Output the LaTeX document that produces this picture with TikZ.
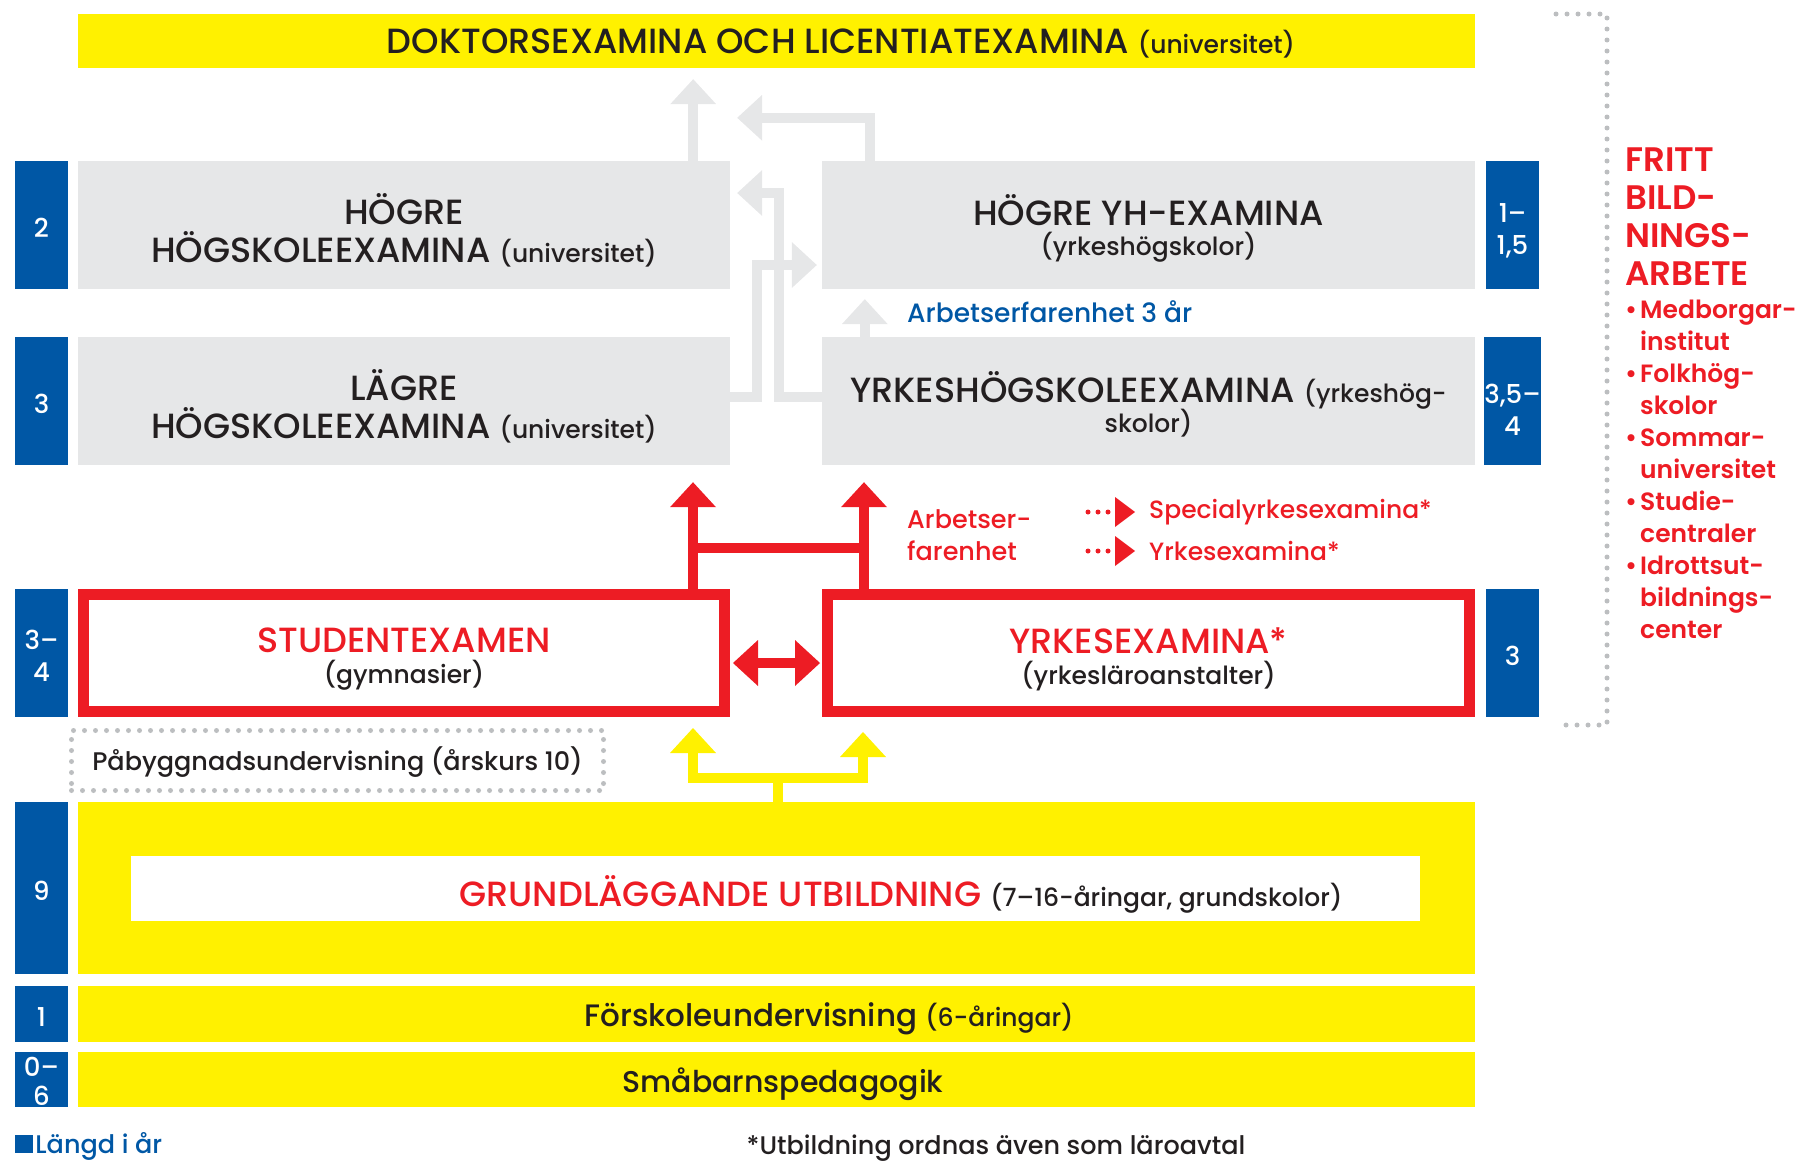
\documentclass[tikz,border=0pt]{standalone}
\usepackage{fontspec}
\setmainfont{Poppins}[UprightFont=* Medium, BoldFont=* SemiBold]
\usetikzlibrary{arrows.meta,positioning}

\definecolor{eduyellow}{HTML}{FFF100}
\definecolor{edured}{HTML}{ED1C24}
\definecolor{edublue}{HTML}{0057A5}
\definecolor{edutext}{HTML}{231F20}
\definecolor{edugrey}{HTML}{E6E7E8}
\definecolor{edudots}{HTML}{BCBEC0}

\newcommand{\capsfont}{\fontsize{35}{38}\selectfont}
\newcommand{\subfont}{\fontsize{25}{32}\selectfont}
\newcommand{\bodyfont}{\fontsize{25.5}{32}\selectfont}
\newcommand{\barfont}{\fontsize{31}{36}\selectfont}
\newcommand{\numfont}{\fontsize{26}{32}\selectfont}
\newcommand{\frittfont}{\fontsize{34}{38}\selectfont\bfseries}
\newcommand{\listfont}{\fontsize{25}{32}\selectfont\bfseries}
% lowers one line of a node text without changing the node size
\newcommand{\sinkline}[2][5pt]{\raisebox{-#1}[\height][\depth]{#2}}

\tikzset{
  bigtip/.tip={Triangle[length=25pt,width=46pt,line width=0pt]},
  smalltip/.tip={Triangle[length=20pt,width=30pt,line width=0pt]},
  greybox/.style={fill=edugrey, text=edutext, minimum width=652pt, minimum height=128pt, inner sep=0pt, align=center, font=\capsfont},
  exambox/.style={draw=edured, line width=11pt, fill=white, text=edutext, minimum width=641pt, minimum height=117pt, inner sep=0pt, align=center, font=\capsfont},
  yellowbar/.style={fill=eduyellow, text=edutext, minimum width=1397pt, inner sep=0pt, align=center},
  yearbox/.style={fill=edublue, text=white, minimum width=53pt, inner sep=0pt, align=center, font=\numfont},
  gopil/.style={draw=edugrey, line width=10.5pt, -bigtip},
  redpil/.style={draw=edured, line width=10.5pt, -bigtip},
  redline/.style={draw=edured, line width=10.5pt},
  gulpil/.style={draw=eduyellow, line width=10.5pt, -bigtip},
  gulline/.style={draw=eduyellow, line width=10.5pt},
  dotline/.style={draw=edudots, line width=5pt, line cap=round, dash pattern=on 0pt off 11pt},
  dotpil/.style={draw=edured, line width=5pt, line cap=round, dash pattern=on 0pt off 10pt, -smalltip},
}

\begin{document}
\begin{tikzpicture}[x=1pt, y=-1pt]
\useasboundingbox (0,0) rectangle (1801,1160);

% doktor
\node[yellowbar, minimum height=54pt] (dok) at (776.5,41) {};
\node[inner sep=0pt, text=edutext, font=\capsfont] (doktext) at ([xshift=64.5pt,yshift=-3pt]dok.center) {DOKTORSEXAMINA OCH LICENTIATEXAMINA {\subfont(universitet)}};

% hogskolor
\node[greybox] (hhe) at (404,225) {\sinkline{HÖGRE}\\\sinkline{HÖGSKOLEEXAMINA {\subfont(universitet)}}};
\node[greybox] (lhe) at (404,401) {\sinkline{LÄGRE}\\\sinkline{HÖGSKOLEEXAMINA {\subfont(universitet)}}};
\node[greybox, minimum width=653pt] (hyh) at (1148.5,225) {\sinkline[3pt]{HÖGRE YH-EXAMINA}\\[-8pt]\sinkline[3pt]{\subfont(yrkeshögskolor)}};
\node[greybox, minimum width=653pt] (yhe) at (1148.5,401) {\sinkline[3pt]{YRKESHÖGSKOLEEXAMINA {\subfont(yrkeshög-}}\\[-8pt]\sinkline[3pt]{\subfont skolor)}};

% andra stadiet
\node[exambox] (stud) at (404,653) {\sinkline[7pt]{\textcolor{edured}{STUDENTEXAMEN}}\\[-6pt]\sinkline[6pt]{\subfont(gymnasier)}};
\node[exambox, minimum width=642pt] (yrk) at (1148.5,653) {\sinkline[7pt]{\textcolor{edured}{YRKESEXAMINA*}}\\[-6pt]\sinkline[6pt]{\subfont(yrkesläroanstalter)}};
\node[dotline, minimum width=532pt, minimum height=60pt, text=edutext, font=\bodyfont] (pabygg) at (337.5,760.5) {\sinkline[2pt]{Påbyggnadsundervisning (årskurs 10)}};

% grund
\node[yellowbar, minimum height=172pt] (grund) at (776.5,888) {};
\node[fill=white, minimum width=1289pt, minimum height=65pt, inner sep=0pt] (band) at (775.5,888.5) {};
\node[text=edutext, font=\capsfont] (grundtext) at (901,894) {\textcolor{edured}{GRUNDLÄGGANDE UTBILDNING} {\subfont(7–16-åringar, grundskolor)}};
\node[yellowbar, minimum height=56pt] (forsk) at (776.5,1014) {};
\node[text=edutext, font=\barfont] (forsktext) at (829,1019) {Förskoleundervisning {\subfont(6-åringar)}};
\node[yellowbar, minimum height=55pt] (smab) at (776.5,1079.5) {};
\node[text=edutext, font=\fontsize{30}{36}\selectfont] (smabtext) at (783,1084) {Småbarnspedagogik};

% langd i ar
\node[yearbox, minimum height=128pt] (y2) at (41.5,225) {\sinkline[3pt]{2}};
\node[yearbox, minimum height=128pt] (y3) at (41.5,401) {\sinkline[3pt]{3}};
\node[yearbox, minimum height=128pt] (y34) at (41.5,653) {\sinkline[3pt]{3–}\\\sinkline[3pt]{4}};
\node[yearbox, minimum height=172pt] (y9) at (41.5,888) {\sinkline[3pt]{9}};
\node[yearbox, minimum height=56pt] (y1) at (41.5,1014) {\sinkline[3pt]{1}};
\node[yearbox, minimum height=55pt] (y06) at (41.5,1079.5) {\sinkline[2pt]{0–}\\[-3pt]\sinkline[2pt]{6}};
\node[yearbox, minimum height=128pt] (r15) at (1512.5,225) {\sinkline[6pt]{1–}\\\sinkline[6pt]{1,5}};
\node[yearbox, minimum height=128pt] (r354) at (1512.5,401) {\sinkline[9pt]{3,5–}\\\sinkline[9pt]{4}};
\node[yearbox, minimum height=128pt] (r3) at (1512.5,653) {\sinkline[3pt]{3}};

% grey arrows
\draw[gopil, shorten >=11pt] ([xshift=-37pt]hhe.north east) -- ([xshift=-37pt]hhe.north east |- dok.south);
\draw[gopil] ([xshift=48pt]hyh.north west) |- ([xshift=7pt,yshift=43pt]hhe.north east);
\draw[gopil] ([yshift=4pt]yhe.west) -- ++(-43,0) |- ([xshift=7pt,yshift=32pt]hhe.east);
\draw[gopil] ([yshift=4pt]lhe.east) -- ++(27,0) |- ([xshift=-5pt,yshift=-40pt]hyh.west);
\draw[gopil, shorten >=10pt] ([xshift=43pt]yhe.north west) -- ([xshift=43pt]yhe.north west |- hyh.south);
\node[anchor=west, inner sep=0pt, text=edublue, font=\fontsize{26.5}{32}\selectfont] (erf3) at (907,312) {Arbetserfarenhet 3 år};

% red arrows
\draw[redpil, shorten >=17pt] ([xshift=-37pt]stud.north east) -- ([xshift=-37pt]stud.north east |- lhe.south);
\draw[redpil, shorten >=17pt] ([xshift=42pt]yrk.north west) -- ([xshift=42pt]yrk.north west |- yhe.south);
\draw[redline] ([xshift=-37pt,yshift=41pt]stud.north east) -- ([xshift=42pt,yshift=41pt]yrk.north west);
\draw[redpil, bigtip-bigtip, shorten <=3pt, shorten >=2pt] ([yshift=-10pt]stud.east) -- ([yshift=-10pt]yrk.west);
\node[anchor=west, inner sep=0pt, align=left, text=edured, font=\bodyfont] (erf) at (907,535) {Arbetser-\\farenhet};
\node[anchor=west, inner sep=0pt, text=edured, font=\fontsize{25}{32}\selectfont] (spec) at (1149,512) {Specialyrkesexamina*};
\node[anchor=west, inner sep=0pt, text=edured, font=\fontsize{25}{32}\selectfont] (yrkex) at (1149,551) {Yrkesexamina*};
\draw[dotpil] ([xshift=-61pt]spec.west) -- ([xshift=-14pt]spec.west);
\draw[dotpil] ([xshift=-61pt]yrkex.west) -- ([xshift=-14pt]yrkex.west);

% yellow arrows
\draw[gulline] ([xshift=1.5pt]grund.north) -- ++(0,-24) coordinate (yj);
\draw[gulpil, shorten >=11pt] (yj) -| ([xshift=-37pt]stud.south east);
\draw[gulpil, shorten >=15pt] (yj) -| ([xshift=41pt]yrk.south west);

% fritt bildningsarbete
\draw[dotline] (1556,14) -- (1607,14) -- (1607,725) -- (1556,725);
\node[anchor=north west, inner sep=0pt, align=left, text=edured, font=\frittfont] (fritt) at (1625,148) {FRITT\\BILD-\\NINGS-\\ARBETE};
\node[anchor=north west, inner sep=0pt, align=left, text=edured, font=\listfont] (fbulist) at (1625,300) {\makebox[15pt][l]{•}Medborgar-\\\makebox[15pt]{}institut\\\makebox[15pt][l]{•}Folkhög-\\\makebox[15pt]{}skolor\\\makebox[15pt][l]{•}Sommar-\\\makebox[15pt]{}universitet\\\makebox[15pt][l]{•}Studie-\\\makebox[15pt]{}centraler\\\makebox[15pt][l]{•}Idrottsut-\\\makebox[15pt]{}bildnings-\\\makebox[15pt]{}center};

% legend
\node[fill=edublue, minimum size=18pt, inner sep=0pt] (legsq) at (24,1143.5) {};
\node[right=2pt of legsq, inner sep=0pt, yshift=-3pt, text=edublue, font=\bodyfont] (legtext) {Längd i år};
\node[text=edutext, inner sep=0pt, font=\bodyfont] (fotnot) at (996,1148) {*Utbildning ordnas även som läroavtal};
\end{tikzpicture}
\end{document}
